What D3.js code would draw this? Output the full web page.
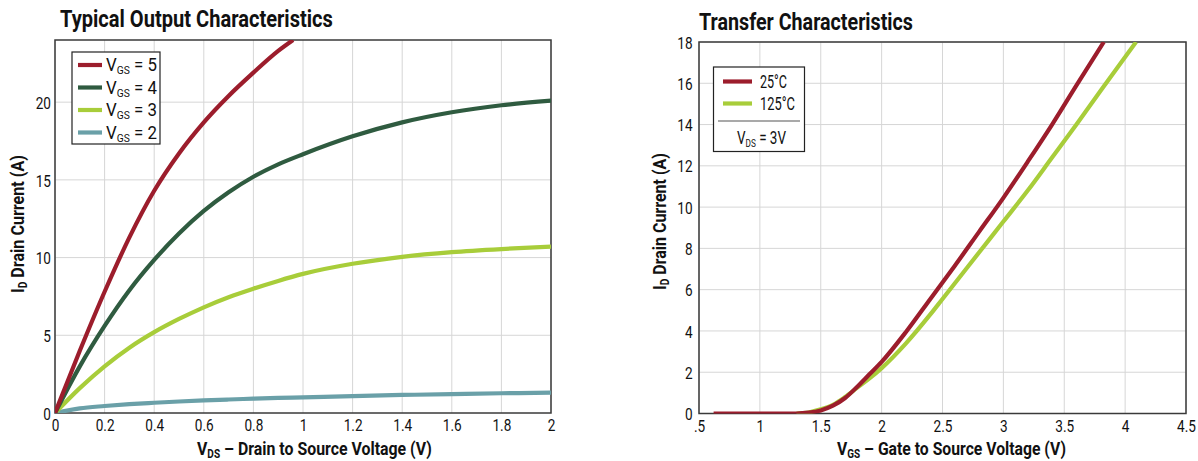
<!DOCTYPE html>
<html>
<head>
<meta charset="utf-8">
<script src="https://cdn.jsdelivr.net/npm/d3@7"></script>
<style>
  body { margin: 0; background: #fff; }
  svg text { font-family: Roboto, "Liberation Sans", sans-serif; fill: #111; }
  .grid line { stroke: #d6d6d6; stroke-width: 1; }
  .title { font-weight: bold; font-size: 23px; }
  .axTitle { font-weight: bold; font-size: 19px; }
  .tick text { font-size: 17px; }
</style>
</head>
<body>
<div id="chart"></div>
<script>
// DATA - output characteristics (VDS in V, ID in A)
const vdsVgs5 = [0, 0.1, 0.2, 0.3, 0.4, 0.5, 0.6, 0.7, 0.8, 0.9, 0.96];
const idVgs5 = [0, 4.0, 7.8, 11.3, 14.3, 16.7, 18.7, 20.4, 21.9, 23.3, 24.0];
const vdsPts = [0, 0.1, 0.2, 0.3, 0.4, 0.5, 0.6, 0.7, 0.8, 0.9, 1.0, 1.2, 1.4, 1.6, 1.8, 2.0];
const idVgs4 = [0, 3.0, 5.6, 7.9, 9.85, 11.55, 13.0, 14.2, 15.2, 16.0, 16.65, 17.8, 18.7, 19.35, 19.8, 20.1];
const idVgs3 = [0, 1.6, 3.0, 4.2, 5.2, 6.05, 6.8, 7.45, 8.0, 8.5, 8.95, 9.6, 10.05, 10.35, 10.55, 10.7];
const idVgs2 = [0, 0.3, 0.45, 0.57, 0.66, 0.74, 0.81, 0.87, 0.92, 0.97, 1.01, 1.09, 1.16, 1.22, 1.27, 1.31];
const outLabels = ["5", "4", "3", "2"];
const outColors = ["#9c1d2c", "#2f5b40", "#a8cd3a", "#6aa0a8"];
const outXTicks = [0, 0.2, 0.4, 0.6, 0.8, 1, 1.2, 1.4, 1.6, 1.8, 2];
const outYTicks = [0, 5, 10, 15, 20];

// DATA - transfer characteristics (VGS in V, ID in A)
const vgs25 = [0.62, 1.0, 1.3, 1.4, 1.5, 1.6, 1.7, 1.8, 1.9, 2.0, 2.2, 2.4, 2.5, 2.6, 2.8, 3.0, 3.2, 3.4, 3.6, 3.825];
const id25 = [0, 0, 0, 0.04, 0.15, 0.38, 0.75, 1.3, 1.9, 2.5, 3.95, 5.55, 6.35, 7.15, 8.8, 10.45, 12.2, 14.0, 15.9, 18.0];
const vgs125 = [1.3, 1.4, 1.5, 1.6, 1.7, 1.8, 1.9, 2.0, 2.2, 2.4, 2.5, 2.6, 2.8, 3.0, 3.2, 3.4, 3.6, 3.8, 4.09];
const id125 = [0, 0.05, 0.2, 0.42, 0.8, 1.25, 1.7, 2.2, 3.4, 4.8, 5.55, 6.3, 7.8, 9.3, 10.8, 12.4, 14.0, 15.65, 18.0];
const trLabels = ["25°C", "125°C"];
const trColors = ["#9c1d2c", "#a8cd3a"];
const trXTicks = [0.5, 1, 1.5, 2, 2.5, 3, 3.5, 4, 4.5];
const trYTicks = [0, 2, 4, 6, 8, 10, 12, 14, 16, 18];

const svg = d3.select("#chart").append("svg")
  .attr("width", 1198)
  .attr("height", 461);

// 좁은 글꼴이 없으므로 가로로 눌러서 폭 맞추기
function place(sel, x, y, rot, targetW, sx) {
  const len = sel.node().getComputedTextLength();
  const s = targetW ? targetW / len : sx;
  sel.attr("transform", `translate(${x},${y})${rot ? ` rotate(${rot})` : ""} scale(${s},1)`);
  return sel;
}

// 첨자 텍스트 (V_GS 등)
function subText(sel, base, sub, rest, size) {
  sel.append("tspan").text(base);
  sel.append("tspan").text(sub).attr("font-size", size).attr("dy", 3);
  sel.append("tspan").text(rest).attr("dy", -3);
  return sel;
}

// 패널 하나 그리기 (grid, axes, border)
function drawPanel(opt) {
  const x = d3.scaleLinear().domain(opt.xDomain).range([opt.left, opt.right]);
  const y = d3.scaleLinear().domain(opt.yDomain).range([opt.bottom, opt.top]);
  const g = svg.append("g");

  g.append("clipPath").attr("id", opt.id + "-clip")
    .append("rect")
    .attr("x", opt.left).attr("y", opt.top)
    .attr("width", opt.right - opt.left).attr("height", opt.bottom - opt.top);

  const grid = g.append("g").attr("class", "grid");
  grid.selectAll(".vx").data(opt.xTicks).enter().append("line")
    .attr("x1", d => x(d)).attr("x2", d => x(d))
    .attr("y1", opt.top).attr("y2", opt.bottom);
  grid.selectAll(".hy").data(opt.gridY).enter().append("line")
    .attr("x1", opt.left).attr("x2", opt.right)
    .attr("y1", d => y(d)).attr("y2", d => y(d));

  const xAxis = d3.axisBottom(x).tickValues(opt.xTicks).tickSize(0).tickPadding(6).tickFormat(opt.xFormat);
  const yAxis = d3.axisLeft(y).tickValues(opt.yTicks).tickSize(0).tickPadding(opt.yPad);
  const xg = g.append("g").attr("transform", `translate(0, ${opt.bottom})`).call(xAxis);
  const yg = g.append("g").attr("transform", `translate(${opt.left}, 0)`).call(yAxis);
  xg.select(".domain").remove();
  yg.select(".domain").remove();
  xg.selectAll(".tick text").attr("transform", "scale(0.8,1)");
  yg.selectAll(".tick text").attr("dy", "0.36em").attr("transform", "scale(0.8,1)");

  g.append("rect")
    .attr("x", opt.left).attr("y", opt.top)
    .attr("width", opt.right - opt.left).attr("height", opt.bottom - opt.top)
    .attr("fill", "none").attr("stroke", "#3a3a3a").attr("stroke-width", 1.5);

  const t = g.append("text").attr("class", "title").text(opt.title);
  place(t, opt.titleX, opt.titleY, 0, opt.titleW);

  return { x, y, g };
}

function addLine(p, xs, ys, color, clipId) {
  const line = d3.line()
    .x(d => p.x(d[0]))
    .y(d => p.y(d[1]))
    .curve(d3.curveMonotoneX);
  p.g.append("path")
    .datum(xs.map((v, i) => [v, ys[i]]))
    .attr("clip-path", `url(#${clipId})`)
    .attr("fill", "none")
    .attr("stroke", color)
    .attr("stroke-width", 4.2)
    .attr("d", line);
}

// LEFT: Typical Output Characteristics
const p1 = drawPanel({
  id: "out", left: 55, right: 551, top: 40, bottom: 413,
  xDomain: [0, 2], yDomain: [0, 24],
  xTicks: outXTicks, yTicks: outYTicks, gridY: outYTicks.slice(1), yPad: 5,
  xFormat: d => d3.format("")(d),
  title: "Typical Output Characteristics", titleX: 60, titleY: 27, titleW: 273
});
addLine(p1, vdsPts, idVgs2, outColors[3], "out-clip");
addLine(p1, vdsPts, idVgs3, outColors[2], "out-clip");
addLine(p1, vdsPts, idVgs4, outColors[1], "out-clip");
addLine(p1, vdsVgs5, idVgs5, outColors[0], "out-clip");

// legend
const leg1 = p1.g.append("g");
leg1.append("rect").attr("x", 72).attr("y", 52).attr("width", 88).attr("height", 92)
  .attr("fill", "#fff").attr("stroke", "#222").attr("stroke-width", 1.2);
outLabels.forEach((lab, i) => {
  const yy = 65 + i * 22.5;
  leg1.append("line").attr("x1", 78).attr("x2", 102).attr("y1", yy).attr("y2", yy)
    .attr("stroke", outColors[i]).attr("stroke-width", 4.2);
  const t = subText(leg1.append("text").attr("font-size", 18), "V", "GS", " = " + lab, 11);
  place(t, 106, yy + 6, 0, 51);
});

// axis titles
const xt1 = subText(svg.append("text").attr("class", "axTitle"), "V", "DS", " – Drain to Source Voltage (V)", 12);
place(xt1, 197, 455, 0, 235);
const yt1 = subText(svg.append("text").attr("class", "axTitle"), "I", "D", " Drain Current (A)", 12);
place(yt1, 24, 293, -90, 138);

// RIGHT: Transfer Characteristics
const p2 = drawPanel({
  id: "tr", left: 699, right: 1186, top: 42, bottom: 413.5,
  xDomain: [0.5, 4.5], yDomain: [0, 18],
  xTicks: trXTicks, yTicks: trYTicks, gridY: trYTicks.slice(1), yPad: 8,
  xFormat: d => d === 0.5 ? ".5" : d3.format("")(d),
  title: "Transfer Characteristics", titleX: 699, titleY: 30, titleW: 214
});
addLine(p2, vgs125, id125, trColors[1], "tr-clip");
addLine(p2, vgs25, id25, trColors[0], "tr-clip");

const leg2 = p2.g.append("g");
leg2.append("rect").attr("x", 713.5).attr("y", 67).attr("width", 91).attr("height", 84.5)
  .attr("fill", "#fff").attr("stroke", "#222").attr("stroke-width", 1.2);
const trW = [27, 35];
trLabels.forEach((lab, i) => {
  const yy = 81.5 + i * 22;
  leg2.append("line").attr("x1", 723).attr("x2", 752).attr("y1", yy).attr("y2", yy)
    .attr("stroke", trColors[i]).attr("stroke-width", 4.2);
  const t = leg2.append("text").attr("font-size", 18).text(lab);
  place(t, 760, yy + 6, 0, trW[i]);
});
leg2.append("line").attr("x1", 718).attr("x2", 800).attr("y1", 121).attr("y2", 121)
  .attr("stroke", "#555").attr("stroke-width", 1.2);
const vds = subText(leg2.append("text").attr("font-size", 18), "V", "DS", " = 3V", 11);
place(vds, 737, 144, 0, 49);

const xt2 = subText(svg.append("text").attr("class", "axTitle"), "V", "GS", " – Gate to Source Voltage (V)", 12);
place(xt2, 837, 455, 0, 229);
const yt2 = subText(svg.append("text").attr("class", "axTitle"), "I", "D", " Drain Current (A)", 12);
place(yt2, 666, 290, -90, 137);
</script>
</body>
</html>
